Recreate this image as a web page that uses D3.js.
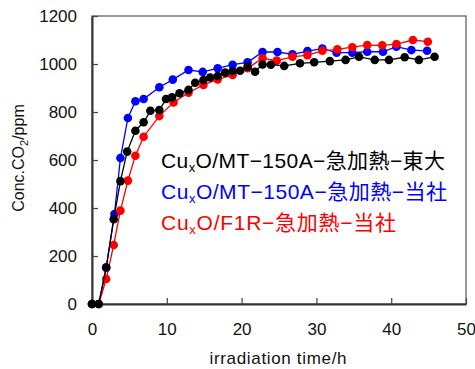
<!DOCTYPE html>
<html><head><meta charset="utf-8">
<script src="https://cdn.jsdelivr.net/npm/d3@7"></script>
<style>body{margin:0;background:#fff}svg{display:block}</style>
</head><body><svg id="c" width="475" height="369"></svg>
<script>
const xTicks = [0,10,20,30,40,50];
const yTicks = [0,200,400,600,800,1000,1200];
const blackT = [0,0.9,1.9,2.9,3.8,4.7,5.8,6.9,7.8,9.0,9.9,10.7,11.7,12.9,13.8,14.9,15.8,16.8,17.8,18.8,19.8,20.8,21.8,22.8,23.9,25.7,27.8,29.7,31.8,33.9,35.7,37.8,39.7,41.8,43.7,45.8];
const blackV = [0,0,153,353,512,635,722,757,805,808,854,861,878,892,922,933,944,950,964,971,972,989,968,998,997,992,1003,1007,1012,1017,1030,1017,1017,1028,1017,1030];
const blueT = [0,0.9,1.9,3.0,3.8,4.8,5.8,6.9,9.0,10.8,12.9,14.8,16.8,18.8,20.8,22.8,24.8,26.8,28.8,30.8,32.7,34.8,36.8,38.9,40.7,42.7,44.8];
const blueV = [0,0,150,375,608,775,845,854,903,935,975,967,982,997,1007,1050,1050,1040,1054,1064,1047,1047,1051,1051,1072,1058,1055];
const redT = [0,0.9,1.9,2.9,3.8,4.8,5.8,6.9,9.0,10.9,12.9,14.9,16.8,18.8,20.8,22.8,24.7,26.8,28.8,30.8,32.8,34.8,36.8,38.8,40.7,42.9,44.9];
const redV = [0,0,104,246,389,514,618,697,783,840,880,913,936,954,982,1024,1014,1030,1037,1055,1061,1070,1079,1078,1083,1100,1093];
const seriesNames = ["MT-150A-急加熱-当社","F1R-急加熱-当社","MT-150A-急加熱-東大"];

const svg = d3.select("#c");
const L=92,R=466,T=16,B=304;
const x = d3.scaleLinear().domain([0,50]).range([L,R]);
const y = d3.scaleLinear().domain([0,1200]).range([B,T]);
const font = "'Liberation Sans', Arial, 'Noto Sans CJK JP', sans-serif";

svg.append("rect").attr("x",L).attr("y",T).attr("width",R-L).attr("height",B-T)
  .attr("fill","none").attr("stroke","#555").attr("stroke-width",1.2);

const xAxis = svg.append("g").attr("transform",`translate(0,${B})`)
  .call(d3.axisBottom(x).tickValues(xTicks).tickFormat(d3.format("d")).tickSizeInner(-6).tickSizeOuter(0).tickPadding(19));
const yAxis = svg.append("g").attr("transform",`translate(${L},0)`)
  .call(d3.axisLeft(y).tickValues(yTicks).tickFormat(d3.format("d")).tickSizeInner(-6).tickSizeOuter(0).tickPadding(15));
[xAxis,yAxis].forEach(g=>{
  g.select(".domain").attr("stroke","#333").attr("stroke-width",2);
  g.selectAll(".tick line").attr("stroke","#444").attr("stroke-width",1.2);
  g.selectAll(".tick text").attr("font-family",font).attr("font-size",17).attr("fill","#111");
});

function drawSeries(ts, vs, color){
  const pts = ts.map((t,i)=>[t,vs[i]]);
  svg.append("path").datum(pts)
    .attr("d", d3.line().x(d=>x(d[0])).y(d=>y(d[1])))
    .attr("fill","none").attr("stroke",color).attr("stroke-width",1.3);
  svg.append("g").selectAll("circle").data(pts).join("circle")
    .attr("cx",d=>x(d[0])).attr("cy",d=>y(d[1])).attr("r",4.3).attr("fill",color);
}
drawSeries(blueT, blueV, "#0000ff");
drawSeries(redT, redV, "#ff0000");
drawSeries(blackT, blackV, "#000000");

const leg = [
  {name:seriesNames[2], color:"#000", yy:168, w:284},
  {name:seriesNames[0], color:"#0000ff", yy:199, w:286},
  {name:seriesNames[1], color:"#ff0000", yy:230, w:235}
];
leg.forEach(l=>{
  const t = svg.append("text").attr("x",161).attr("y",l.yy).attr("fill",l.color)
    .attr("font-family",font).attr("font-size",21);
  t.append("tspan").text("Cu");
  t.append("tspan").attr("font-size",13).attr("dy",4).text("x");
  t.append("tspan").attr("dy",-4).text("O/" + l.name.replace(/-/g,"−"));
  t.attr("textLength", l.w).attr("lengthAdjust","spacing");
});

svg.append("text").attr("x",278).attr("y",364).attr("text-anchor","middle")
  .attr("font-family",font).attr("font-size",17).attr("fill","#111")
  .attr("textLength",137).attr("lengthAdjust","spacing").text("irradiation time/h");
const yl = svg.append("text").attr("transform","translate(24,158) rotate(-90)").attr("text-anchor","middle")
  .attr("font-family",font).attr("font-size",16).attr("fill","#111");
yl.append("tspan").text("Conc.CO");
yl.append("tspan").attr("font-size",11).attr("dy",4).text("2");
yl.append("tspan").attr("dy",-4).text("/ppm");
</script></body></html>
